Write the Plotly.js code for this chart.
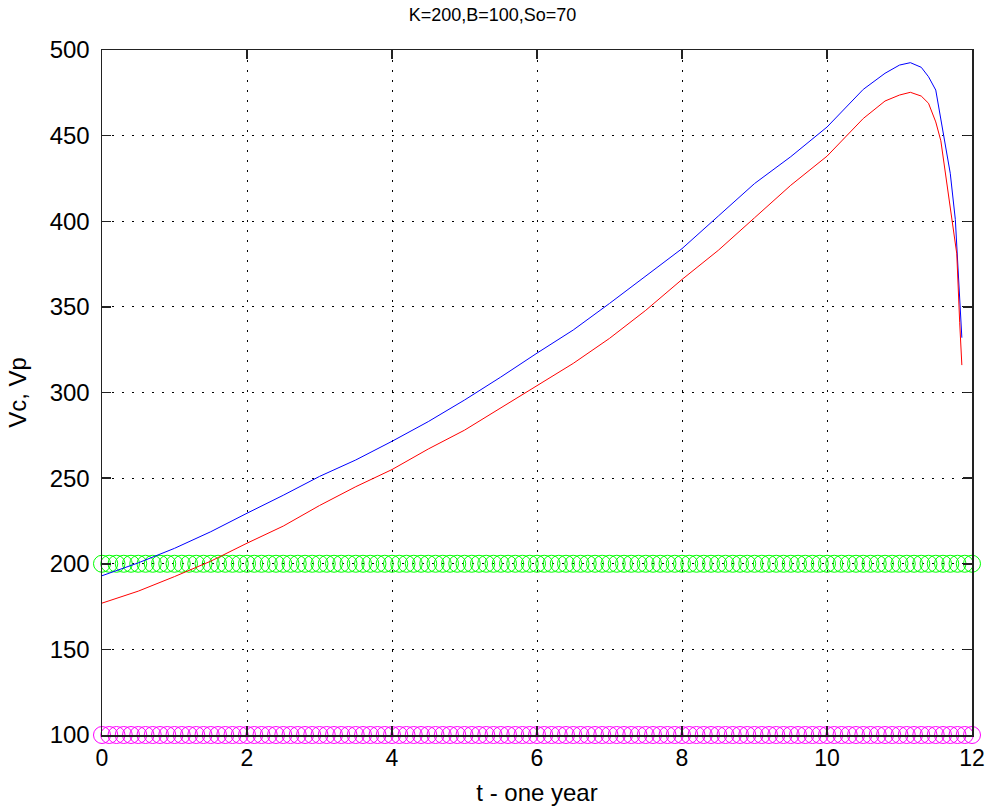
<!DOCTYPE html>
<html>
<head>
<meta charset="utf-8">
<script src="https://cdn.plot.ly/plotly-3.0.1.min.js"></script>
<style>html,body{margin:0;padding:0;background:#fff;}#chart{width:985px;height:808px;}</style>
</head>
<body>
<div id="chart"></div>
<script>
// Blue curve
const tBlue = [0, 0.5, 1, 1.5, 2, 2.5, 3, 3.5, 4, 4.5, 5, 5.5, 6, 6.5, 7, 7.5, 8, 8.5, 9, 9.5, 10, 10.5, 10.8, 11.0, 11.15, 11.3, 11.4, 11.5, 11.6, 11.7, 11.77, 11.81, 11.83, 11.86];
const vBlue = [193, 200.5, 209, 218.7, 229.5, 240, 251, 260.6, 271.5, 283, 295.6, 309, 323, 336.5, 352, 368, 384, 403, 422, 437.7, 455, 477, 486.4, 491.2, 492.6, 489.9, 484.4, 476.6, 453, 428, 401, 370, 350, 332];
// Red curve
const tRed = [0, 0.5, 1, 1.5, 2, 2.5, 3, 3.5, 4, 4.5, 5, 5.5, 6, 6.5, 7, 7.5, 8, 8.5, 9, 9.5, 10, 10.5, 10.8, 11.0, 11.15, 11.3, 11.4, 11.5, 11.57, 11.65, 11.74, 11.79, 11.83, 11.86];
const vRed = [177, 184, 192.5, 201.5, 212, 222, 234, 245, 255, 267, 278, 291, 303.5, 317, 331.6, 348, 366, 383, 402, 421, 438, 460, 470.2, 473.7, 475.3, 473.1, 468.9, 458, 447, 424, 397, 381, 341, 316];
// Constant levels
const K = 200;
const B = 100;
const tMarkers = [0,0.1,0.2,0.3,0.4,0.5,0.6,0.7,0.8,0.9,1,1.1,1.2,1.3,1.4,1.5,1.6,1.7,1.8,1.9,2,2.1,2.2,2.3,2.4,2.5,2.6,2.7,2.8,2.9,3,3.1,3.2,3.3,3.4,3.5,3.6,3.7,3.8,3.9,4,4.1,4.2,4.3,4.4,4.5,4.6,4.7,4.8,4.9,5,5.1,5.2,5.3,5.4,5.5,5.6,5.7,5.8,5.9,6,6.1,6.2,6.3,6.4,6.5,6.6,6.7,6.8,6.9,7,7.1,7.2,7.3,7.4,7.5,7.6,7.7,7.8,7.9,8,8.1,8.2,8.3,8.4,8.5,8.6,8.7,8.8,8.9,9,9.1,9.2,9.3,9.4,9.5,9.6,9.7,9.8,9.9,10,10.1,10.2,10.3,10.4,10.5,10.6,10.7,10.8,10.9,11,11.1,11.2,11.3,11.4,11.5,11.6,11.7,11.8,11.9,12];
const xTicks = [0, 2, 4, 6, 8, 10, 12];
const yTicks = [100, 150, 200, 250, 300, 350, 400, 450, 500];

const traces = [
  {x: tMarkers, y: tMarkers.map(() => K), mode: 'markers', cliponaxis: false,
   marker: {symbol: 'circle-open', size: 17, color: '#00ff00', line: {width: 1, color: '#00ff00'}}},
  {x: tMarkers, y: tMarkers.map(() => B), mode: 'markers', cliponaxis: false,
   marker: {symbol: 'circle-open', size: 17, color: '#ff00ff', line: {width: 1, color: '#ff00ff'}}},
  {x: tBlue, y: vBlue, mode: 'lines', line: {color: '#0000ff', width: 1}},
  {x: tRed, y: vRed, mode: 'lines', line: {color: '#ff0000', width: 1}}
];

const fam = 'Liberation Sans, Arial, sans-serif';
const layout = {
  width: 985, height: 808,
  margin: {l: 102, r: 13, t: 50, b: 73},
  paper_bgcolor: '#fff', plot_bgcolor: '#fff',
  showlegend: false,
  title: {text: 'K=200,B=100,So=70', x: 0.5, xanchor: 'center', y: 0.99, yanchor: 'top',
          font: {family: fam, size: 18, color: '#000'}},
  xaxis: {range: [0, 12], tickvals: xTicks, ticktext: xTicks.map(String),
          showgrid: true, gridcolor: '#000', gridwidth: 1, griddash: '2px,8px',
          zeroline: false, showline: true, linecolor: '#222', linewidth: 1.5, mirror: 'ticks',
          ticks: 'inside', ticklen: 9, tickcolor: '#222', tickwidth: 1.5,
          tickfont: {family: fam, size: 23, color: '#000'}, ticklabelstandoff: 2,
          title: {text: 't - one year', font: {family: fam, size: 24, color: '#000'}, standoff: 14}},
  yaxis: {range: [100, 500], tickvals: yTicks, ticktext: yTicks.map(String),
          showgrid: true, gridcolor: '#000', gridwidth: 1, griddash: '2px,8px',
          zeroline: false, showline: true, linecolor: '#222', linewidth: 1.5, mirror: 'ticks',
          ticks: 'inside', ticklen: 9, tickcolor: '#222', tickwidth: 1.5,
          tickfont: {family: fam, size: 24, color: '#000'}, ticklabelstandoff: 6,
          title: {text: 'Vc, Vp', font: {family: fam, size: 24, color: '#000'}, standoff: 16}}
};

Plotly.newPlot('chart', traces, layout, {displayModeBar: false, staticPlot: true});
</script>
</body>
</html>
